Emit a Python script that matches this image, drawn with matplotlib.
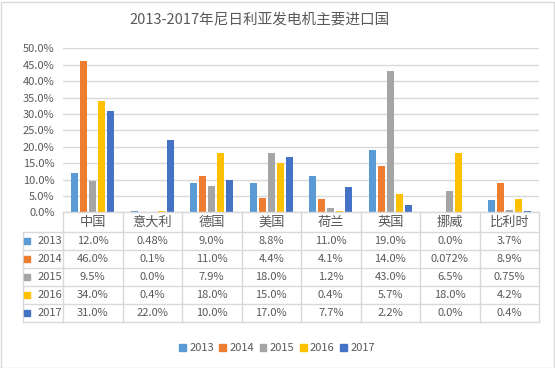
import numpy as np
import matplotlib
matplotlib.use('Agg')
import matplotlib.pyplot as plt
from matplotlib.patches import Rectangle

plt.rcParams['font.family'] = ['Noto Sans CJK SC', 'DejaVu Sans']

countries = ['中国', '意大利', '德国', '美国', '荷兰', '英国', '挪威', '比利时']
years = ['2013', '2014', '2015', '2016', '2017']
v2013 = [12.0, 0.48, 9.0, 8.8, 11.0, 19.0, 0.0, 3.7]
v2014 = [46.0, 0.1, 11.0, 4.4, 4.1, 14.0, 0.072, 8.9]
v2015 = [9.5, 0.0, 7.9, 18.0, 1.2, 43.0, 6.5, 0.75]
v2016 = [34.0, 0.4, 18.0, 15.0, 0.4, 5.7, 18.0, 4.2]
v2017 = [31.0, 22.0, 10.0, 17.0, 7.7, 2.2, 0.0, 0.4]
labels2013 = ['12.0%', '0.48%', '9.0%', '8.8%', '11.0%', '19.0%', '0.0%', '3.7%']
labels2014 = ['46.0%', '0.1%', '11.0%', '4.4%', '4.1%', '14.0%', '0.072%', '8.9%']
labels2015 = ['9.5%', '0.0%', '7.9%', '18.0%', '1.2%', '43.0%', '6.5%', '0.75%']
labels2016 = ['34.0%', '0.4%', '18.0%', '15.0%', '0.4%', '5.7%', '18.0%', '4.2%']
labels2017 = ['31.0%', '22.0%', '10.0%', '17.0%', '7.7%', '2.2%', '0.0%', '0.4%']

series = [v2013, v2014, v2015, v2016, v2017]
cell_text = [labels2013, labels2014, labels2015, labels2016, labels2017]
colors = ['#5B9BD5', '#ED7D31', '#A5A5A5', '#FFC000', '#4472C4']
txtcol = '#595959'
gridcol = '#D9D9D9'

W, H = 555, 368
fig = plt.figure(figsize=(W / 100, H / 100), dpi=100)
fig.patches.append(Rectangle((0.5 / W, 0.5 / H), 1 - 2 / W, 1 - 2 / H, transform=fig.transFigure,
                             fill=False, edgecolor='#D9D9D9', linewidth=1))

x0, x1 = 63, 539
ytop, ybot = 48.3, 212.3
ax = fig.add_axes([x0 / W, 1 - ybot / H, (x1 - x0) / W, (ybot - ytop) / H])

x = np.arange(len(countries))
bw = 0.118
step = 0.151
for i, vals in enumerate(series):
    ax.bar(x + (i - 2) * step, vals, width=bw, color=colors[i], zorder=3)

ax.set_xlim(-0.5, len(countries) - 0.5)
ax.set_ylim(0, 50)
ax.set_yticks(np.arange(0, 50.1, 5))
ax.set_yticklabels(['%.1f%%' % t for t in np.arange(0, 50.1, 5)], color=txtcol, fontsize=8)
ax.tick_params(axis='y', length=0, pad=6)
ax.set_xticks([])
ax.grid(axis='y', color=gridcol, linewidth=1, zorder=0)
for s in ax.spines.values():
    s.set_visible(False)

fig.text(260 / W, 1 - 20 / H, '2013-2017年尼日利亚发电机主要进口国', ha='center', va='center',
         fontsize=10.5, color=txtcol)

# data table below the axis
rows_y = [212.3, 232, 250, 267.5, 285.5, 303.5, 321.5]
tax = fig.add_axes([x0 / W, 1 - rows_y[-1] / H, (x1 - x0) / W, (rows_y[-1] - rows_y[0]) / H])
tax.set_xlim(-0.5, len(countries) - 0.5)
tax.set_ylim(rows_y[-1], rows_y[0])
tax.axis('off')
lab_left = -0.5 - (x0 - 23) / ((x1 - x0) / len(countries))
for k, yy in enumerate(rows_y):
    xa = -0.5 if k == 0 else lab_left
    tax.plot([xa, len(countries) - 0.5], [yy, yy], color=gridcol, lw=1, clip_on=False)
for b in np.arange(-0.5, len(countries), 1.0):
    tax.plot([b, b], [rows_y[0], rows_y[-1]], color=gridcol, lw=1, clip_on=False)
tax.plot([lab_left, lab_left], [rows_y[1], rows_y[-1]], color=gridcol, lw=1, clip_on=False)

for j, c in enumerate(countries):
    tax.text(j, (rows_y[0] + rows_y[1]) / 2, c, ha='center', va='center', fontsize=9.5, color=txtcol)
for i, yr in enumerate(years):
    yc = (rows_y[i + 1] + rows_y[i + 2]) / 2
    tax.plot([lab_left + 0.07], [yc], marker='s', markersize=5, color=colors[i], clip_on=False)
    tax.text(-0.52, yc, yr, ha='right', va='center', fontsize=8, color=txtcol)
    for j in range(len(countries)):
        tax.text(j, yc, cell_text[i][j], ha='center', va='center', fontsize=8, color=txtcol)

handles = [Rectangle((0, 0), 1, 1, color=c) for c in colors]
fig.legend(handles, years, loc='center', bbox_to_anchor=(277 / W, 1 - 348 / H), ncol=5,
           frameon=False, fontsize=8, handlelength=0.6, handleheight=0.6, handletextpad=0.3,
           columnspacing=0.5, labelcolor=txtcol)

fig.savefig('out.png', dpi=100)
